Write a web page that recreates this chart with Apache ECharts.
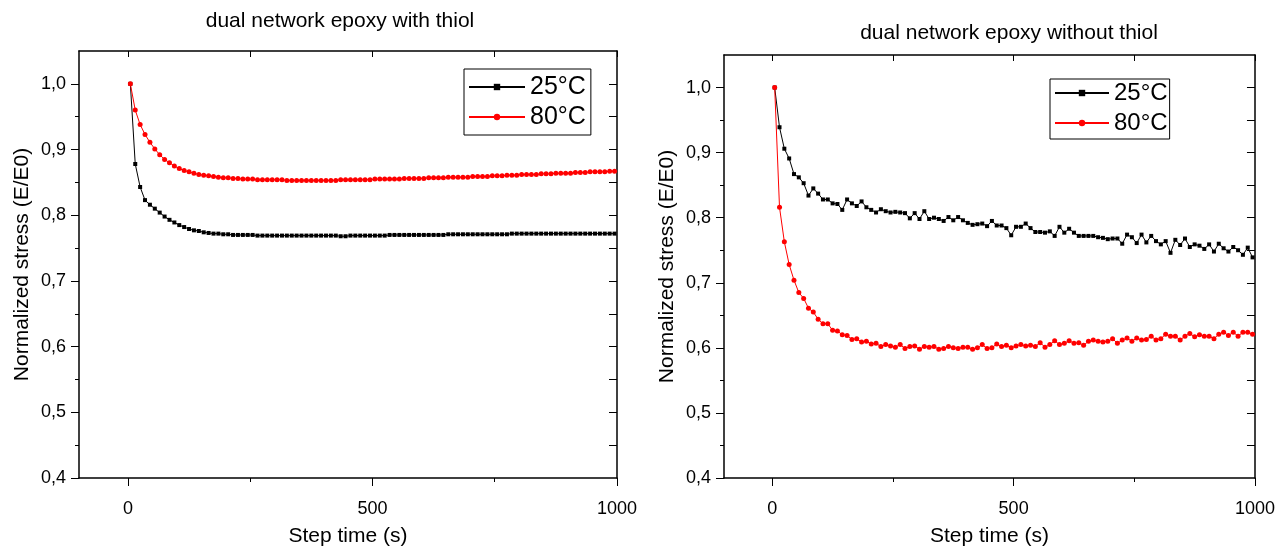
<!DOCTYPE html>
<html>
<head>
    <meta charset="utf-8">
    <title>stress relaxation</title>
    <script src="https://cdn.jsdelivr.net/npm/echarts@6/dist/echarts.min.js"></script>
</head>
<body style="margin:0; background:#fff;">
    <div id="main" style="width:1278px; height:552px;"></div>
    <script>
        // step time (s), same for every curve
        var times = [5, 15, 25, 35, 45, 55, 65, 75, 85, 95,
            105, 115, 125, 135, 145, 155, 165, 175, 185, 195,
            205, 215, 225, 235, 245, 255, 265, 275, 285, 295,
            305, 315, 325, 335, 345, 355, 365, 375, 385, 395,
            405, 415, 425, 435, 445, 455, 465, 475, 485, 495,
            505, 515, 525, 535, 545, 555, 565, 575, 585, 595,
            605, 615, 625, 635, 645, 655, 665, 675, 685, 695,
            705, 715, 725, 735, 745, 755, 765, 775, 785, 795,
            805, 815, 825, 835, 845, 855, 865, 875, 885, 895,
            905, 915, 925, 935, 945, 955, 965, 975, 985, 995]

        // dual network epoxy with thiol
        var withThiol25 = [1.0, 0.878, 0.843, 0.823, 0.816, 0.810, 0.804, 0.798, 0.793, 0.789,
            0.785, 0.782, 0.779, 0.777, 0.776, 0.774, 0.773, 0.772, 0.772, 0.771,
            0.771, 0.770, 0.770, 0.770, 0.770, 0.770, 0.769, 0.769, 0.769, 0.769,
            0.769, 0.769, 0.769, 0.769, 0.769, 0.769, 0.769, 0.769, 0.769, 0.769,
            0.769, 0.769, 0.769, 0.768, 0.768, 0.769, 0.769, 0.769, 0.769, 0.769,
            0.769, 0.769, 0.769, 0.770, 0.770, 0.770, 0.770, 0.770, 0.770, 0.770,
            0.770, 0.770, 0.770, 0.770, 0.770, 0.771, 0.771, 0.771, 0.771, 0.771,
            0.771, 0.771, 0.771, 0.771, 0.771, 0.771, 0.771, 0.771, 0.772, 0.772,
            0.772, 0.772, 0.772, 0.772, 0.772, 0.772, 0.772, 0.772, 0.772, 0.772,
            0.772, 0.772, 0.772, 0.772, 0.772, 0.772, 0.772, 0.772, 0.772, 0.772]
        var withThiol80 = [1.0, 0.960, 0.938, 0.923, 0.911, 0.901, 0.892, 0.885, 0.880, 0.875,
            0.871, 0.868, 0.866, 0.864, 0.862, 0.861, 0.860, 0.859, 0.858, 0.857,
            0.857, 0.856, 0.856, 0.855, 0.855, 0.855, 0.854, 0.854, 0.854, 0.854,
            0.854, 0.854, 0.853, 0.853, 0.853, 0.853, 0.853, 0.853, 0.853, 0.853,
            0.853, 0.853, 0.853, 0.854, 0.854, 0.854, 0.854, 0.854, 0.854, 0.854,
            0.855, 0.855, 0.855, 0.855, 0.855, 0.855, 0.856, 0.856, 0.856, 0.856,
            0.856, 0.857, 0.857, 0.857, 0.857, 0.858, 0.858, 0.858, 0.858, 0.858,
            0.859, 0.859, 0.859, 0.859, 0.860, 0.860, 0.860, 0.861, 0.861, 0.861,
            0.862, 0.862, 0.862, 0.862, 0.863, 0.863, 0.863, 0.864, 0.864, 0.864,
            0.864, 0.865, 0.865, 0.865, 0.866, 0.866, 0.866, 0.866, 0.867, 0.867]

        // dual network epoxy without thiol
        var withoutThiol25 = [1.0, 0.939, 0.906, 0.891, 0.867, 0.862, 0.853, 0.834, 0.845, 0.837,
            0.828, 0.828, 0.822, 0.821, 0.812, 0.828, 0.822, 0.818, 0.825, 0.816,
            0.812, 0.808, 0.813, 0.810, 0.808, 0.809, 0.808, 0.807, 0.799, 0.807,
            0.798, 0.810, 0.798, 0.800, 0.798, 0.795, 0.801, 0.796, 0.801, 0.796,
            0.792, 0.789, 0.790, 0.791, 0.787, 0.795, 0.788, 0.788, 0.784, 0.773,
            0.786, 0.786, 0.791, 0.784, 0.778, 0.778, 0.777, 0.779, 0.772, 0.786,
            0.777, 0.783, 0.777, 0.772, 0.772, 0.772, 0.772, 0.770, 0.769, 0.767,
            0.768, 0.768, 0.760, 0.774, 0.770, 0.761, 0.774, 0.762, 0.772, 0.764,
            0.759, 0.764, 0.746, 0.766, 0.758, 0.768, 0.755, 0.759, 0.757, 0.752,
            0.759, 0.748, 0.760, 0.753, 0.748, 0.755, 0.750, 0.743, 0.754, 0.739]
        var withoutThiol80 = [1.0, 0.816, 0.763, 0.728, 0.704, 0.685, 0.676, 0.661, 0.655, 0.644,
            0.637, 0.637, 0.627, 0.626, 0.620, 0.619, 0.613, 0.614, 0.609, 0.610,
            0.606, 0.607, 0.602, 0.605, 0.603, 0.601, 0.605, 0.599, 0.602, 0.603,
            0.598, 0.602, 0.601, 0.602, 0.598, 0.599, 0.602, 0.600, 0.599, 0.601,
            0.601, 0.598, 0.600, 0.605, 0.599, 0.600, 0.606, 0.602, 0.604, 0.600,
            0.603, 0.605, 0.603, 0.604, 0.602, 0.608, 0.601, 0.605, 0.611, 0.605,
            0.607, 0.611, 0.607, 0.608, 0.604, 0.610, 0.612, 0.610, 0.609, 0.610,
            0.614, 0.607, 0.612, 0.615, 0.610, 0.615, 0.612, 0.613, 0.618, 0.612,
            0.614, 0.621, 0.618, 0.618, 0.612, 0.618, 0.622, 0.617, 0.620, 0.618,
            0.618, 0.614, 0.621, 0.624, 0.619, 0.624, 0.618, 0.624, 0.624, 0.621]

        // ticks
        var xMajor = [0, 500, 1000]
        var xMinor = [250, 750]
        var xTop = [0, 250, 500, 750, 1000]
        var yMajor = [0.4, 0.5, 0.6, 0.7, 0.8, 0.9, 1.0]
        var yMinor = [0.45, 0.55, 0.65, 0.75, 0.85, 0.95]
        var yRight = [0.45, 0.5, 0.55, 0.6, 0.65, 0.7, 0.75, 0.8, 0.85, 0.9, 0.95, 1.0]

        var names = ['25°C', '80°C']
        var titles = ['dual network epoxy with thiol', 'dual network epoxy without thiol']

        var font = "'Liberation Sans', Arial, sans-serif"
        var axisLine = {show: true, onZero: false, lineStyle: {color: '#000', width: 1.5}}
        var tickLine = {color: '#000', width: 1}

        var pairs = function(ys) {
            var out = []
            for (var i = 0; i < times.length; i++) {
                out.push([times[i], ys[i]])
            }
            return out
        }

        var xAxes = []
        var yAxes = []
        var makeAxes = function(gi) {
            // bottom, labelled
            xAxes.push({
                type: 'value', gridIndex: gi, min: -100, max: 1000, position: 'bottom',
                axisLine: axisLine,
                axisTick: {show: true, customValues: xMajor, length: 8, lineStyle: tickLine},
                axisLabel: {
                    customValues: xMajor, color: '#000', fontSize: 18, fontFamily: font, margin: 22,
                    formatter: function(v) { return String(v) }
                },
                splitLine: {show: false},
                name: 'Step time (s)', nameLocation: 'middle', nameGap: 48,
                nameTextStyle: {color: '#000', fontSize: 21, fontFamily: font}
            })
            // bottom, minor ticks
            xAxes.push({
                type: 'value', gridIndex: gi, min: -100, max: 1000, position: 'bottom',
                axisLine: {show: false, onZero: false},
                axisTick: {show: true, customValues: xMinor, length: 4, lineStyle: tickLine},
                axisLabel: {show: false},
                splitLine: {show: false}
            })
            // top frame
            xAxes.push({
                type: 'value', gridIndex: gi, min: -100, max: 1000, position: 'top',
                axisLine: axisLine,
                axisTick: {show: true, inside: true, customValues: xTop, length: 6, lineStyle: tickLine},
                axisLabel: {show: false},
                splitLine: {show: false}
            })
            yAxes.push({
                type: 'value', gridIndex: gi, min: 0.4, max: 1.05, position: 'left',
                axisLine: axisLine,
                axisTick: {show: true, customValues: yMajor, length: 8, lineStyle: tickLine},
                axisLabel: {
                    customValues: yMajor, color: '#000', fontSize: 18, fontFamily: font, margin: 13,
                    formatter: function(v) { return v.toFixed(1).replace('.', ',') }
                },
                splitLine: {show: false},
                name: 'Normalized stress (E/E0)', nameLocation: 'middle', nameGap: 46,
                nameTextStyle: {color: '#000', fontSize: 21, fontFamily: font}
            })
            yAxes.push({
                type: 'value', gridIndex: gi, min: 0.4, max: 1.05, position: 'left',
                axisLine: {show: false, onZero: false},
                axisTick: {show: true, customValues: yMinor, length: 4, lineStyle: tickLine},
                axisLabel: {show: false},
                splitLine: {show: false}
            })
            yAxes.push({
                type: 'value', gridIndex: gi, min: 0.4, max: 1.05, position: 'right',
                axisLine: axisLine,
                axisTick: {show: true, inside: true, customValues: yRight, length: 8, lineStyle: tickLine},
                axisLabel: {show: false},
                splitLine: {show: false}
            })
        }
        makeAxes(0)
        makeAxes(1)

        var makeSeries = function(gi, name, ys, color, symbol, size) {
            return {
                name: name, type: 'line', xAxisIndex: gi * 3, yAxisIndex: gi * 3,
                data: pairs(ys),
                symbol: symbol, symbolSize: size, showAllSymbol: true,
                lineStyle: {color: color, width: 1},
                itemStyle: {color: color},
                emphasis: {disabled: true}
            }
        }

        var legendBase = {
            orient: 'vertical', borderColor: '#000', borderWidth: 1, borderRadius: 0,
            itemWidth: 56, itemHeight: 8, itemGap: 2,
            textStyle: {color: '#000', fontSize: 25, fontFamily: font, lineHeight: 28},
            data: names
        }

        var element = document.querySelector('#main')
        var myChart = echarts.init(element)
        var option = {
            animation: false,
            backgroundColor: '#fff',
            title: [
                {text: titles[0], left: 335, top: 6, textAlign: 'center',
                    textStyle: {color: '#000', fontSize: 21, fontWeight: 'normal', fontFamily: font}},
                {text: titles[1], left: 1004, top: 18, textAlign: 'center',
                    textStyle: {color: '#000', fontSize: 21, fontWeight: 'normal', fontFamily: font}}
            ],
            legend: [
                Object.assign({}, legendBase, {left: 464, top: 69, padding: [4, 5, 4, 4]}),
                Object.assign({}, legendBase, {left: 1050, top: 79, padding: [1, 2, 3, 4], itemGap: 4,
                    itemWidth: 54, textStyle: {color: '#000', fontSize: 24, fontFamily: font, lineHeight: 26}})
            ],
            grid: [
                {left: 79, top: 51, width: 538, height: 433},
                {left: 724, top: 55, width: 533, height: 433}
            ],
            xAxis: xAxes,
            yAxis: yAxes,
            series: [
                makeSeries(0, names[0], withThiol25, '#000', 'rect', 4),
                makeSeries(0, names[1], withThiol80, '#ff0000', 'circle', 5),
                makeSeries(1, names[0], withoutThiol25, '#000', 'rect', 4),
                makeSeries(1, names[1], withoutThiol80, '#ff0000', 'circle', 5)
            ]
        }
        myChart.setOption(option)
    </script>
</body>
</html>
